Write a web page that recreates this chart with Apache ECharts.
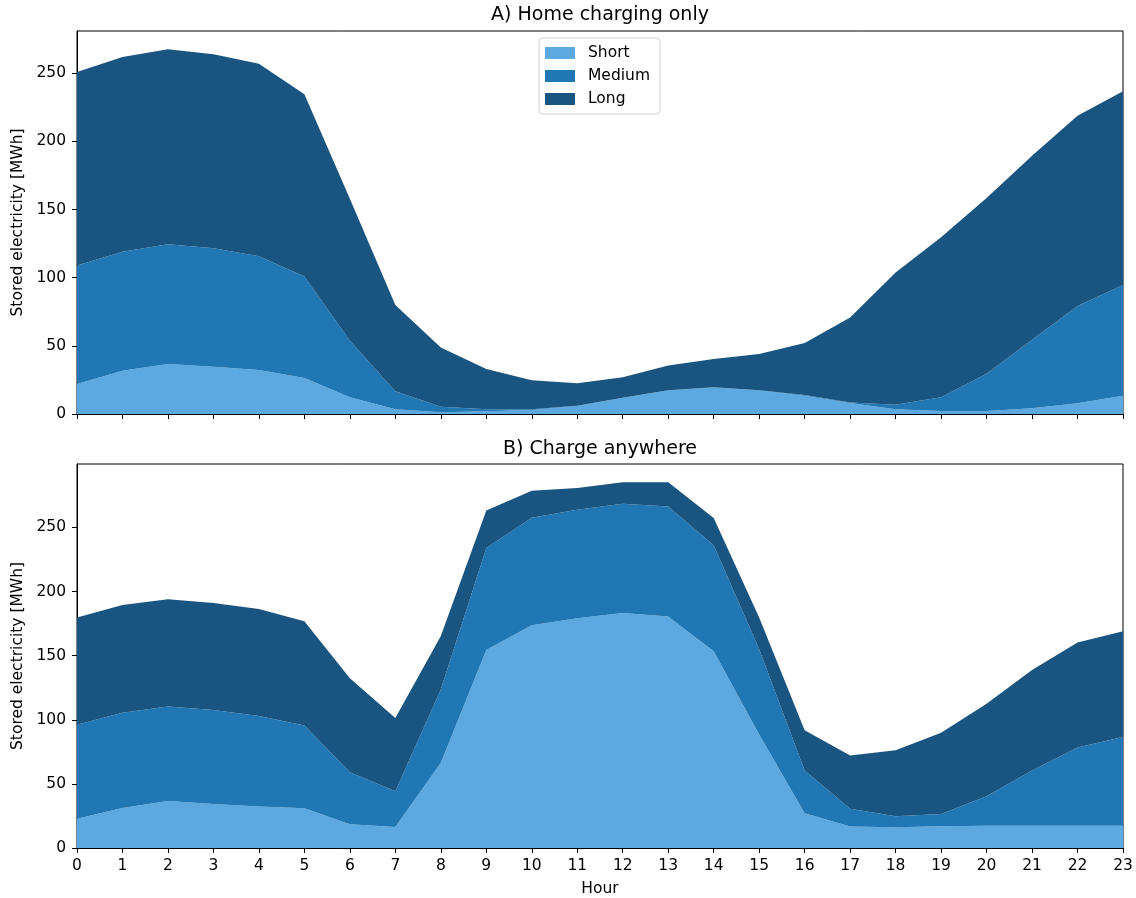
<!DOCTYPE html>
<html>
<head>
<meta charset="utf-8">
<script src="https://cdn.jsdelivr.net/npm/echarts@6/dist/echarts.min.js"></script>
<style>
html,body{margin:0;padding:0;background:#fff;}
#c{width:1136px;height:898px;}
</style>
</head>
<body>
<div id="c"></div>
<script>
const hours = ['0','1','2','3','4','5','6','7','8','9','10','11','12','13','14','15','16','17','18','19','20','21','22','23'];
const yTicksA = [0, 50, 100, 150, 200, 250];
const titleA = 'A) Home charging only';
const titleB = 'B) Charge anywhere';
const seriesNames = ['Short', 'Medium', 'Long'];

// Panel A: Home charging only (MWh, per band)
const shortA  = [22, 31.7, 36.6, 34.7, 32.2, 26.4, 12.2, 3.4, 1.2, 2, 3, 5.8, 11.7, 17.3, 19.5, 17.3, 13.4, 8, 3.4, 2.2, 2.2, 4.2, 7.8, 13.4];
const mediumA = [87, 87.3, 87.9, 86.9, 83.5, 74.4, 41.5, 13.2, 4.2, 1.4, 0.4, 0.3, 0.2, 0.2, 0.2, 0.2, 0.5, 0.5, 3.4, 10, 27.3, 50.2, 71.5, 81.3];
const longA   = [142, 143, 143.1, 142.4, 141.3, 133.8, 104.3, 63.4, 43.4, 29.6, 21.3, 16.4, 15, 18.1, 20.6, 26.5, 38.1, 62.3, 97, 117.4, 128.9, 135.1, 139.5, 142.1];

// Panel B: Charge anywhere (MWh, per band)
const shortB  = [22.9, 31.2, 36.7, 34.4, 32.3, 31, 18.5, 16.4, 66.4, 154.4, 173.7, 179.2, 183.3, 180.5, 153.4, 88.5, 27.1, 16.7, 16.1, 16.9, 17.4, 17.4, 17.4, 17.4];
const mediumB = [73.2, 74.3, 73.7, 73.2, 70.6, 64.6, 40.6, 27.9, 57.3, 79.5, 83.9, 84.6, 85.2, 85.9, 82.8, 66.5, 33.3, 14, 8.6, 9.7, 23, 43, 61, 69.1];
const longB   = [83.6, 84.1, 83.6, 83.4, 83.6, 81.2, 73.2, 57, 41.7, 29.4, 21, 16.9, 16.7, 18.8, 21.1, 24.7, 31.5, 41.4, 51.6, 63.2, 72.1, 78.4, 81.8, 82.5];

const colors = ['#5ba9e0', '#2077b4', '#1a5480'];
const FONT = 'DejaVu Sans';
const FS = 15.5;

function xAxis(idx, showLabels) {
  return {
    type: 'category', gridIndex: idx, data: hours, boundaryGap: false,
    axisLine: {show: true, lineStyle: {color: '#000', width: 1}},
    axisTick: {show: true, length: 5, inside: false, alignWithLabel: true, lineStyle: {color: '#000'}},
    axisLabel: {show: showLabels, color: '#000', fontFamily: FONT, fontSize: FS, margin: 10, interval: 0},
    splitLine: {show: false},
    name: showLabels ? 'Hour' : '', nameLocation: 'middle', nameGap: 33,
    nameTextStyle: {color: '#000', fontFamily: FONT, fontSize: FS}
  };
}
function yAxis(idx, max) {
  return {
    type: 'value', gridIndex: idx, min: 0, max: max, interval: 50,
    axisLine: {show: true, lineStyle: {color: '#000', width: 1}},
    axisTick: {show: true, length: 5, inside: false, lineStyle: {color: '#000'}},
    axisLabel: {color: '#000', fontFamily: FONT, fontSize: FS, margin: 11, showMaxLabel: false},
    splitLine: {show: false},
    name: 'Stored electricity [MWh]', nameLocation: 'middle', nameGap: 50, nameRotate: 90,
    nameTextStyle: {color: '#000', fontFamily: FONT, fontSize: FS}
  };
}
function band(name, data, idx, stack, ci) {
  return {
    name: name, type: 'line', xAxisIndex: idx, yAxisIndex: idx, stack: stack,
    data: data, symbol: 'none', showSymbol: false, smooth: false,
    lineStyle: {width: 0, opacity: 0},
    areaStyle: {color: colors[ci], opacity: 1},
    itemStyle: {color: colors[ci]},
    emphasis: {disabled: true}, animation: false
  };
}

const chart = echarts.init(document.getElementById('c'), null, {renderer: 'canvas'});
chart.setOption({
  animation: false,
  backgroundColor: '#fff',
  title: [
    {text: titleA, left: 600, top: 6, padding: 0, textAlign: 'center', textStyle: {fontFamily: FONT, fontSize: 19, fontWeight: 'normal', color: '#000'}},
    {text: titleB, left: 600, top: 440, padding: 0, textAlign: 'center', textStyle: {fontFamily: FONT, fontSize: 19, fontWeight: 'normal', color: '#000'}}
  ],
  legend: {
    data: seriesNames, orient: 'vertical', left: 539, top: 38,
    itemWidth: 30, itemHeight: 12, itemGap: 7, icon: 'rect',
    padding: [7, 10, 7, 6],
    backgroundColor: '#fff', borderColor: '#d0d0d0', borderWidth: 1, borderRadius: 4,
    textStyle: {fontFamily: FONT, fontSize: FS, color: '#000', padding: [0, 0, 0, 8]},
    selectedMode: false
  },
  grid: [
    {left: 77, width: 1046, top: 31, height: 383, show: true, borderColor: '#000', borderWidth: 1, backgroundColor: 'transparent', containLabel: false},
    {left: 77, width: 1046, top: 464, height: 384, show: true, borderColor: '#000', borderWidth: 1, backgroundColor: 'transparent', containLabel: false}
  ],
  xAxis: [xAxis(0, false), xAxis(1, true)],
  yAxis: [yAxis(0, 281), yAxis(1, 299.5)],
  series: [
    band('Short', shortA, 0, 'A', 0),
    band('Medium', mediumA, 0, 'A', 1),
    band('Long', longA, 0, 'A', 2),
    band('Short', shortB, 1, 'B', 0),
    band('Medium', mediumB, 1, 'B', 1),
    band('Long', longB, 1, 'B', 2)
  ]
});
</script>
</body>
</html>
